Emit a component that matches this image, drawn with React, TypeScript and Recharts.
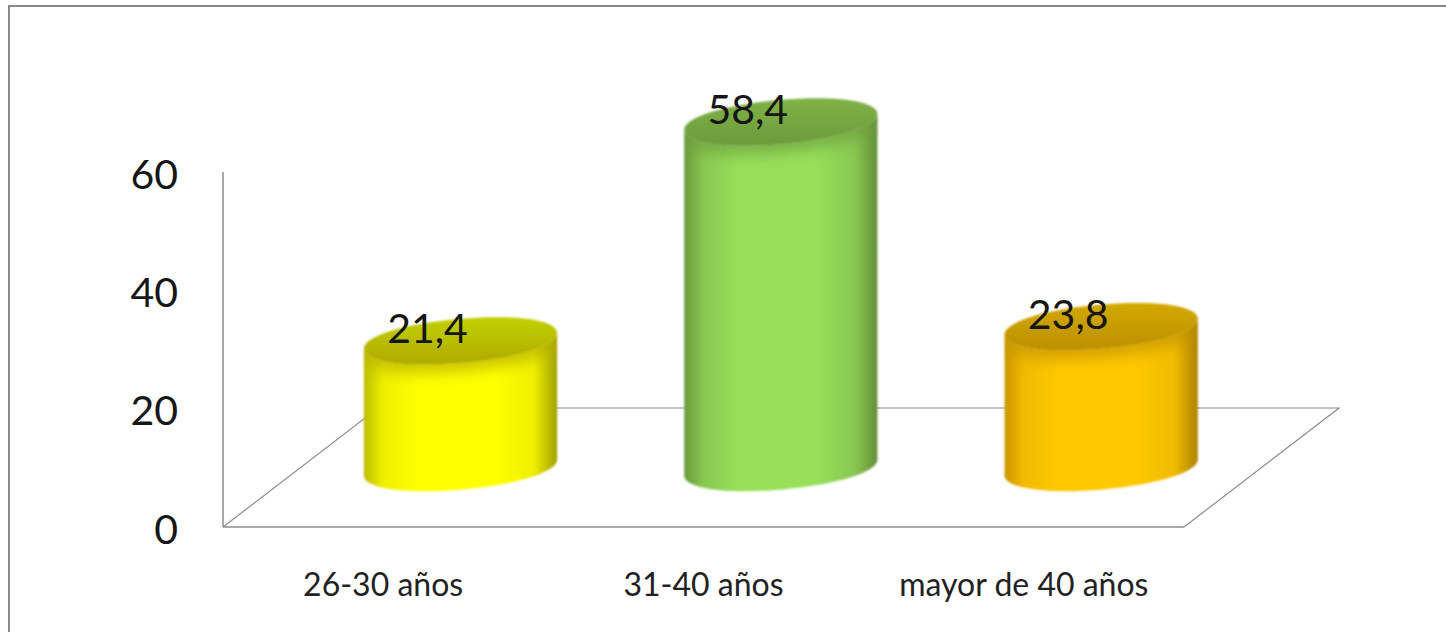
import React from 'react';
import { BarChart, Bar, XAxis, YAxis, LabelList, usePlotArea } from 'recharts';

const categories = ['26-30 años', '31-40 años', 'mayor de 40 años'];
const values = [21.4, 58.4, 23.8];
const yTicks = [0, 20, 40, 60];

// side edges, centre, and the two tones of the top cap per bar
const palettes = [
  { edgeL: '#bdbd00', soft: '#efef00', edgeR: '#a0a000', mid: '#ffff00', top: '#c2d000', rim: '#b0aa00' },
  { edgeL: '#6c9a3c', soft: '#88c850', edgeR: '#648f38', mid: '#98e05a', top: '#80b246', rim: '#6c9a3c' },
  { edgeL: '#cc9600', soft: '#f0bb00', edgeR: '#ad8200', mid: '#ffc800', top: '#d2a800', rim: '#bd9000' },
];

const data = categories.map((name, i) => ({ name, value: values[i] }));

const FONT = 'Lato, "Open Sans", sans-serif';
const AXIS_COLOR = '#8c8c8c';
const DEPTH_X = 155;
const DEPTH_Y = 119;
const RX = 97;
const RY = 22;
const COS = Math.cos((5 * Math.PI) / 180);
const SIN = Math.sin((5 * Math.PI) / 180);
const K = 0.58; // a touch rounder than a true ellipse

const Floor = () => {
  const plot = usePlotArea();
  if (!plot) return null;
  const left = plot.x;
  const right = plot.x + plot.width;
  const bottom = plot.y + plot.height;
  const back = bottom - DEPTH_Y;
  return (
    <path
      d={`M${left} ${bottom} L${left + DEPTH_X} ${back} L${right + DEPTH_X} ${back} L${right} ${bottom}`}
      fill="none"
      stroke={AXIS_COLOR}
      strokeWidth={1.2}
    />
  );
};

// local cap coordinates to page coordinates, tilted 5 degrees
const pt = (cx: number, cy: number, dx: number, dy: number) =>
  `${cx + dx * COS + dy * SIN} ${cy - dx * SIN + dy * COS}`;

const halfCap = (cx: number, cy: number, from: number, side: number) =>
  `C${pt(cx, cy, from * RX, side * K * RY)} ${pt(cx, cy, from * K * RX, side * RY)} ${pt(cx, cy, 0, side * RY)} ` +
  `C${pt(cx, cy, -from * K * RX, side * RY)} ${pt(cx, cy, -from * RX, side * K * RY)} ${pt(cx, cy, -from * RX, 0)}`;

const Cylinder = (props: any) => {
  const { x, y, width, height, index } = props;
  const cx = x + width / 2 + DEPTH_X / 2;
  const baseY = y + height - DEPTH_Y / 2;
  const topY = y - DEPTH_Y / 2;
  const body =
    `M${pt(cx, topY, -RX, 0)} L${pt(cx, baseY, -RX, 0)} ${halfCap(cx, baseY, -1, 1)} ` +
    `L${pt(cx, topY, RX, 0)} ${halfCap(cx, topY, 1, 1)} Z`;
  const cap = `M${pt(cx, topY, -RX, 0)} ${halfCap(cx, topY, -1, -1)} ${halfCap(cx, topY, 1, 1)} Z`;
  const p = palettes[index];
  return (
    <g filter="url(#blur-edge)">
      <clipPath id={`body-clip-${index}`}>
        <path d={body} />
      </clipPath>
      <path d={body} fill={`url(#body-${index})`} />
      <g clipPath={`url(#body-clip-${index})`}>
        <path
          d={`M${pt(cx, topY + 9, -RX, 0)} ${halfCap(cx, topY + 9, -1, -1)} ${halfCap(cx, topY + 9, 1, 1)} Z`}
          fill={p.rim}
          opacity={0.65}
          filter="url(#soft)"
        />
      </g>
      <path d={cap} fill={`url(#top-${index})`} />
    </g>
  );
};

const ValueLabel = (props: any) => {
  const { x, y, width, value } = props;
  return (
    <text
      x={x + width / 2 + DEPTH_X / 2 - 33}
      y={y - DEPTH_Y / 2 - 13}
      textAnchor="middle"
      dominantBaseline="central"
      fontFamily={FONT}
      fontSize={41}
      fill="#161616"
    >
      {Number(value).toFixed(1).replace('.', ',')}
    </text>
  );
};

export default function App() {
  return (
    <div style={{ position: 'absolute', left: 0, top: 0, width: 1446, height: 632, background: '#fff', overflow: 'hidden' }}>
      <div
        style={{
          position: 'absolute',
          left: 8,
          top: 5,
          width: 1440,
          height: 630,
          borderTop: '2px solid #8a8a8a',
          borderLeft: '2px solid #8a8a8a',
        }}
      />
      <div style={{ position: 'absolute', left: 0, top: 0 }}>
        <BarChart
          width={1446}
          height={632}
          data={data}
          margin={{ top: 172, right: 262, bottom: 0, left: 0 }}
          barSize={192}
        >
          <defs>
            {palettes.map((p, i) => (
              <linearGradient key={i} id={`body-${i}`} x1="0" y1="0" x2="1" y2="0">
                <stop offset="0" stopColor={p.edgeL} />
                <stop offset="0.1" stopColor={p.soft} />
                <stop offset="0.28" stopColor={p.mid} />
                <stop offset="0.68" stopColor={p.mid} />
                <stop offset="0.88" stopColor={p.soft} />
                <stop offset="1" stopColor={p.edgeR} />
              </linearGradient>
            ))}
            {palettes.map((p, i) => (
              <linearGradient key={i} id={`top-${i}`} x1="0" y1="0" x2="0" y2="1">
                <stop offset="0" stopColor={p.top} />
                <stop offset="1" stopColor={p.rim} />
              </linearGradient>
            ))}
            <filter id="soft" x="-20%" y="-60%" width="140%" height="220%">
              <feGaussianBlur stdDeviation="7" />
            </filter>
            <filter id="blur-edge" x="-5%" y="-5%" width="110%" height="110%">
              <feGaussianBlur stdDeviation="0.9" />
            </filter>
          </defs>
          <Floor />
          <XAxis
            dataKey="name"
            height={105}
            tickLine={false}
            tickSize={0}
            tickMargin={46}
            interval={0}
            axisLine={{ stroke: AXIS_COLOR, strokeWidth: 1.5 }}
            tick={{ fontFamily: FONT, fontSize: 32, fill: '#222' }}
          />
          <YAxis
            width={223}
            domain={[0, 60]}
            ticks={yTicks}
            tickLine={false}
            tickSize={0}
            tickMargin={45}
            axisLine={{ stroke: AXIS_COLOR, strokeWidth: 1.5 }}
            tick={{ fontFamily: FONT, fontSize: 41, fill: '#161616', dy: 2 }}
          />
          <Bar dataKey="value" isAnimationActive={false} shape={Cylinder}>
            <LabelList dataKey="value" content={ValueLabel} />
          </Bar>
        </BarChart>
      </div>
    </div>
  );
}
